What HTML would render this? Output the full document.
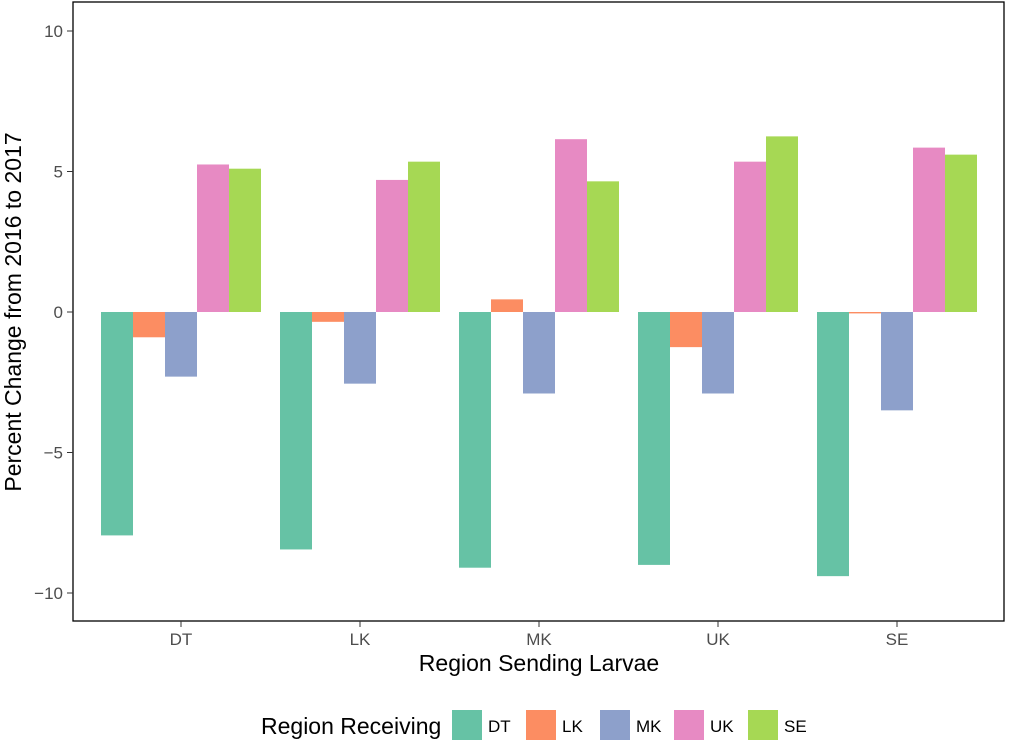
<!DOCTYPE html>
<html><head><meta charset="utf-8"><style>
body{margin:0;background:#fff;font-family:"Liberation Sans",sans-serif}
</style></head><body>
<svg id="chart" width="1012" height="745" xmlns="http://www.w3.org/2000/svg">
<rect x="73" y="2" width="931" height="619" fill="none" stroke="#000" stroke-width="1.3"/>
<g id="bars"></g><g id="axes"></g>
<text x="539" y="671" font-size="23" text-anchor="middle">Region Sending Larvae</text>
<text transform="translate(21,312) rotate(-90)" font-size="23" text-anchor="middle">Percent Change from 2016 to 2017</text>
<g id="legend"><text x="261" y="734" font-size="23">Region Receiving</text></g>
</svg>
<script>
const categories=["DT","LK","MK","UK","SE"];
const seriesNames=["DT","LK","MK","UK","SE"];
const colors=["#66c2a5","#fc8d62","#8da0cb","#e78ac3","#a6d854"];
const sDT=[-7.95,-8.45,-9.1,-9.0,-9.4];
const sLK=[-0.9,-0.35,0.45,-1.25,-0.05];
const sMK=[-2.3,-2.55,-2.9,-2.9,-3.5];
const sUK=[5.25,4.7,6.15,5.35,5.85];
const sSE=[5.1,5.35,4.65,6.25,5.6];
const yTicks=[-10,-5,0,5,10];
const series=[sDT,sLK,sMK,sUK,sSE];
const NS="http://www.w3.org/2000/svg";
const y=v=>312-v*28.1;
const xc=i=>181+i*179;
const bw=32;
function mk(t,a,p){const e=document.createElementNS(NS,t);for(const k in a)e.setAttribute(k,a[k]);p.appendChild(e);return e;}
const bars=document.getElementById('bars'),axes=document.getElementById('axes'),leg=document.getElementById('legend');
categories.forEach((c,i)=>{
 series.forEach((s,j)=>{
  const v=s[i];const x=xc(i)-2.5*bw+j*bw;
  const r=mk('rect',{x:x,y:Math.min(y(v),y(0)),width:bw,height:Math.abs(y(v)-y(0)),fill:colors[j]},bars);
  
  
 });
 const tk=mk('line',{x1:xc(i),x2:xc(i),y1:621,y2:627,stroke:'#333'},axes);
 
 const t=mk('text',{x:xc(i),y:645,'font-size':17,fill:'#4d4d4d','text-anchor':'middle'},axes);t.textContent=c;
 
});
yTicks.forEach(v=>{
 const tk=mk('line',{x1:67,x2:73,y1:y(v),y2:y(v),stroke:'#333'},axes);
 
 const t=mk('text',{x:63,y:y(v)+6,'font-size':17,fill:'#4d4d4d','text-anchor':'end'},axes);t.textContent=v<0?'\u2212'+(-v):v;
 
});
seriesNames.forEach((n,j)=>{
 const x=452+j*74;
 const r=mk('rect',{x:x,y:710,width:30,height:30,fill:colors[j]},leg);
 
 const t=mk('text',{x:x+36,y:732,'font-size':17},leg);t.textContent=n;
 
});
</script>
</body></html>
